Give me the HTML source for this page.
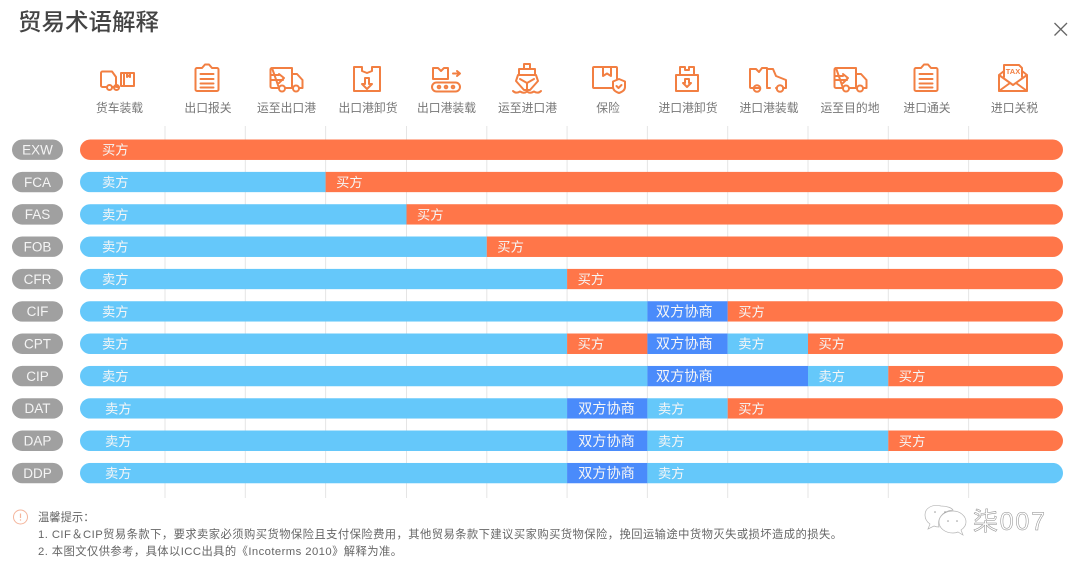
<!DOCTYPE html>
<html lang="zh">
<head>
<meta charset="utf-8">
<title>贸易术语解释</title>
<style>
html,body{margin:0;padding:0;background:#fff;}
body{width:1080px;height:568px;overflow:hidden;position:relative;font-family:"Liberation Sans","Noto Sans CJK SC",sans-serif;}
svg{position:absolute;left:0;top:0;filter:blur(0.35px);}
text{font-family:"Liberation Sans","Noto Sans CJK SC",sans-serif;}
.ic{fill:none;stroke:#f27f42;stroke-width:2;stroke-linejoin:round;stroke-linecap:round;}
</style>
</head>
<body>
<svg id="chart" width="1080" height="568" viewBox="0 0 1080 568" xmlns="http://www.w3.org/2000/svg">
  <text x="18" y="30" font-size="23.5" font-weight="500" fill="#444">贸易术语解释</text>
  <g stroke="#666" stroke-width="1.3" fill="none">
    <path d="M1054.500 23L1067 35.500M1067 23L1054.500 35.500"/>
  </g>
  <g id="grid"></g>
  <g font-size="11.800" fill="#777" text-anchor="middle">
    <text x="119.500" y="112">货车装载</text>
    <text x="208" y="112">出口报关</text>
    <text x="286.500" y="112">运至出口港</text>
    <text x="368" y="112">出口港卸货</text>
    <text x="446.500" y="112">出口港装载</text>
    <text x="527.500" y="112">运至进口港</text>
    <text x="608" y="112">保险</text>
    <text x="688" y="112">进口港卸货</text>
    <text x="769" y="112">进口港装载</text>
    <text x="850" y="112">运至目的地</text>
    <text x="927" y="112">进口通关</text>
    <text x="1014.500" y="112">进口关税</text>
  </g>
  <g id="rows"></g>

  <g class="ic" transform="translate(118,80)">
    <path d="M-11 7H-15.500a1.500 1.500 0 0 1-1.500-1.500V-7a1.500 1.500 0 0 1 1.500-1.500H-6L-2 -3V7M-5 7H-6M-1 7H1"/>
    <circle cx="-8.500" cy="7.500" r="2.500"/><circle cx="-1.500" cy="7.500" r="2.500"/>
    <path d="M3 -7H16V6H3ZM6 6V-7M9 -7V-3L10.500 -4.500L12 -3V-7"/>
  </g>
  <g class="ic" transform="translate(207,78)">
    <path d="M-5 -10H-10a1.500 1.500 0 0 0-1.500 1.500V11.500a1.500 1.500 0 0 0 1.500 1.500H10a1.500 1.500 0 0 0 1.500-1.500V-8.500A1.500 1.500 0 0 0 10 -10H5L2 -13.500H-2Z"/>
    <path d="M-6.500 -4H6.500M-6.500 1H6.500M-6.500 5.500H6.500M-6.500 9.500H6.500"/>
  </g>
  <g class="ic" transform="translate(286,79)">
    <path d="M-13 -11H6V9H-1M-7 9H-14a1.500 1.500 0 0 1-1.500-1.500V-9.500A1.500 1.500 0 0 1-14 -11Z"/>
    <path d="M6 -5H11L16.500 1V9H13M7 9H6"/>
    <circle cx="-4" cy="9.500" r="3"/><circle cx="10" cy="9.500" r="3"/>
    <path d="M-15 -4H-7M-15 1H-3M-7 -5L-2 -1L-7 4"/>
  </g>
  <g class="ic" transform="translate(367,79)">
    <path d="M-13 -12H-5V-8L0 -6L5 -8V-12H13V12H-13Z"/><path d="M-2 -1H2V5H5L0 10L-5 5H-2Z"/>
  </g>
  <g class="ic" transform="translate(446,79)">
    <path d="M-13 -11H-8L-5 -8L-2 -11H2V0H-13Z"/><path d="M7 -5.500H13M11 -8L14 -5.500L11 -3"/>
    <rect x="-14" y="3.500" width="28" height="9" rx="4.500"/>
    <circle cx="-7" cy="8" r="1.300"/><circle cx="0" cy="8" r="1.300"/><circle cx="7" cy="8" r="1.300"/>
  </g>
  <g class="ic" transform="translate(527,78)">
    <path d="M-3 -14H3V-9H-3ZM-8 -9H8V-3H-8ZM-9 -3H9L11 3L3 12H-3L-11 3Z"/>
    <path d="M-7 1L0 5L7 1M0 5V12"/>
    <path d="M-14 13Q-11 16 -7 13.500Q-3 16 0 13.500Q3 16 7 13.500Q11 16 14 13"/>
  </g>
  <g class="ic" transform="translate(607,78)">
    <path d="M6 10H-13a1 1 0 0 1-1-1V-10a1 1 0 0 1 1-1H9a1 1 0 0 1 1 1V1"/>
    <path d="M-4 -11V-2L0 -4.500L4 -2V-11"/>
    <path d="M12 1L18 3.500V9C18 12 15 14 12 15C9 14 6 12 6 9V3.500Z"/><path d="M9.500 8L11.500 10L14.500 7"/>
  </g>
  <g class="ic" transform="translate(687,79)">
    <path d="M-7 -4V-12H-2V-9H2V-12H7V-4"/><path d="M-11 -4H11V12H-11Z"/>
    <path d="M-2 0H2V4H4L0 8L-4 4H-2Z"/>
  </g>
  <g class="ic" transform="translate(767,79)">
    <path d="M-7 9H-16a1 1 0 0 1-1-1V-10H-11L-8 -7L-5 -11H0V8M0 9H3"/>
    <path d="M0 -10H6L9 -3L19 1V9H16M10 9H9"/>
    <circle cx="-10" cy="9.500" r="3.300"/><circle cx="13" cy="9.500" r="3.300"/>
  </g>
  <g class="ic" transform="translate(850,79)">
    <path d="M-13 -11H6V9H-1M-7 9H-14a1.500 1.500 0 0 1-1.500-1.500V-9.500A1.500 1.500 0 0 1-14 -11Z"/>
    <path d="M6 -5H11L16.500 1V9H13M7 9H6"/>
    <circle cx="-4" cy="9.500" r="3"/><circle cx="10" cy="9.500" r="3"/>
    <path d="M-15 -3H-7M-15 1H-3M-7 -5L-2 -1L-7 4"/>
  </g>
  <g class="ic" transform="translate(926,78)">
    <path d="M-5 -10H-10a1.500 1.500 0 0 0-1.500 1.500V11.500a1.500 1.500 0 0 0 1.500 1.500H10a1.500 1.500 0 0 0 1.500-1.500V-8.500A1.500 1.500 0 0 0 10 -10H5L2 -13.500H-2Z"/>
    <path d="M-6.500 -4H6.500M-6.500 1H6.500M-6.500 5.500H6.500M-6.500 9.500H6.500"/>
  </g>
  <g transform="translate(1013,78)">
    <g class="ic">
      <path d="M-9 -1V-13H6L9 -10V-1"/>
      <path d="M-14 -3V13H14V-3L9 -7M-9 -7L-14 -3L0 7L14 -3M-14 13L-3 5M14 13L3 5"/>
    </g>
    <text x="0" y="-4" text-anchor="middle" font-size="7.500" font-weight="700" fill="#f27f42">TAX</text>
  </g>

  <g>
    <circle cx="20.500" cy="517" r="7" fill="none" stroke="#f4b59c" stroke-width="1"/>
    <path d="M20.500 513.500V518" stroke="#f4b59c" stroke-width="1.200"/>
    <circle cx="20.500" cy="520" r="0.700" fill="#f4b59c"/>
  </g>
  <text x="38" y="521" font-size="11.300" fill="#666">温馨提示：</text>
  <text x="38" y="538" font-size="11.300" fill="#666" textLength="804" lengthAdjust="spacing">1. CIF＆CIP贸易条款下，要求卖家必须购买货物保险且支付保险费用，其他贸易条款下建议买家购买货物保险，挽回运输途中货物灭失或损坏造成的损失。</text>
  <text x="38" y="555" font-size="11.300" fill="#666" textLength="364" lengthAdjust="spacing">2. 本图文仅供参考，具体以ICC出具的《Incoterms 2010》解释为准。</text>

  <g>
    <g fill="#fff" stroke="#b5b5b5" stroke-width="0.700">
      <path d="M941 506c-9-2-16 2-16 9c0 4 2 7 5 9l-2 5l6-3c2 1 4 1 5 1c-2-8 3-16 14-17c-1-2-6-4-12-4Z"/>
      <path d="M953 511c-8 0-14 5-14 11s6 11 14 11c2 0 3 0 5-1l5 3l-2-5c3-2 5-5 5-8c0-6-6-11-13-11Z"/>
    </g>
    <g fill="#999"><circle cx="948" cy="521" r="0.800"/><circle cx="957" cy="521" r="0.800"/><circle cx="935" cy="512" r="0.800"/><circle cx="945" cy="512" r="0.800"/></g>
    <text x="973" y="530" font-size="25" fill="#fff" stroke="#8a8a8a" stroke-width="0.500" textLength="72" lengthAdjust="spacing">柒007</text>
  </g>
</svg>
<script>
const stepCount = 12;
const terms = ['EXW','FCA','FAS','FOB','CFR','CIF','CPT','CIP','DAT','DAP','DDP'];
const parties = { seller:'卖方', buyer:'买方', both:'双方协商' };
const colors = { seller:'#65c8fa', buyer:'#ff7649', both:'#4a8bfb' };
/* each row: responsible party and the step count at which that party's span ends */
const spanParties = [
  ['buyer'],
  ['seller','buyer'],
  ['seller','buyer'],
  ['seller','buyer'],
  ['seller','buyer'],
  ['seller','both','buyer'],
  ['seller','buyer','both','seller','buyer'],
  ['seller','both','seller','buyer'],
  ['seller','both','seller','buyer'],
  ['seller','both','seller','buyer'],
  ['seller','both','seller']
];
const spanEnds = [
  [12],
  [3,12],
  [4,12],
  [5,12],
  [6,12],
  [7,8,12],
  [6,7,8,9,12],
  [7,9,10,12],
  [6,7,8,12],
  [6,7,10,12],
  [6,7,12]
];

const NS = 'http://www.w3.org/2000/svg';
const plotX0 = 84.7, stepW = 80.3, rowY0 = 149.7, rowH = 32.34, barH = 20.5, barL = 80, barR = 1063;
const xOf = k => k <= 0 ? barL : (k >= stepCount ? barR : plotX0 + stepW * k + (k >= 4 ? 0.6 : 0));
const yOf = r => rowY0 + rowH * r;
function mk(tag, attrs, parent, txt) {
  const el = document.createElementNS(NS, tag);
  for (const k in attrs) el.setAttribute(k, attrs[k]);
  if (txt != null) el.textContent = txt;
  parent.appendChild(el);
  return el;
}
const gridG = document.getElementById('grid');
const rowsG = document.getElementById('rows');

for (let k = 1; k < stepCount; k++) {
  const ln = mk('line', {x1:xOf(k), x2:xOf(k), y1:126, y2:498, stroke:'#e5e5e5', 'stroke-width':1}, gridG);
  
  
}
terms.forEach((term, r) => {
  const cy = yOf(r);
  const g = mk('g', {}, rowsG);
  
  
  const pill = mk('rect', {x:12, y:cy - 10.2, width:51, height:20.4, rx:10.2, fill:'#a0a0a0'}, g);
  
  
  const pt = mk('text', {x:37.5, y:cy + 4.8, 'text-anchor':'middle', 'font-size':13.5, fill:'#f4f4f4'}, g, term);
  
  

  const clipId = 'clip' + r;
  const defs = mk('defs', {}, g);
  const clip = mk('clipPath', {id:clipId}, defs);
  mk('rect', {x:barL, y:cy - barH / 2, width:barR - barL, height:barH, rx:barH / 2}, clip);
  const bars = mk('g', {'clip-path':'url(#' + clipId + ')'}, g);
  let start = 0;
  spanParties[r].forEach((party, j) => {
    const end = spanEnds[r][j];
    const x1 = xOf(start), x2 = xOf(end);
    const seg = mk('rect', {x:x1, y:cy - barH / 2, width:x2 - x1, height:barH, fill:colors[party]}, bars);
    
    
    start = end;
  });
  start = 0;
  spanParties[r].forEach((party, j) => {
    const end = spanEnds[r][j];
    const bothPad = r >= 8 ? 11 : 8.5;
    const lx = start === 0 ? (r >= 8 ? 105 : 102) : xOf(start) + (party === 'both' ? bothPad : 10.5);
    const lab = mk('text', {x:lx, y:cy + 5, 'font-size':party === 'both' ? 14.2 : 13.3, fill:'#f6f6f6'}, g, parties[party]);
    
    
    start = end;
  });
});
</script>
</body>
</html>
